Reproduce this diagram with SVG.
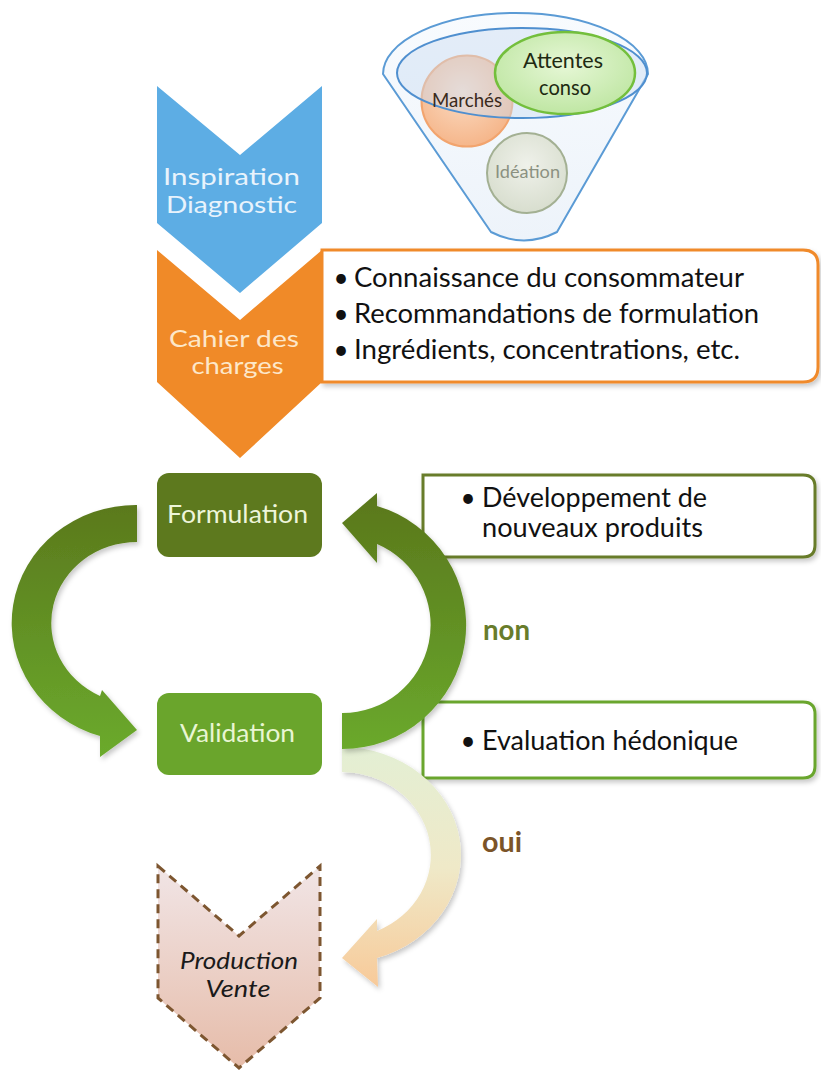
<svg xmlns="http://www.w3.org/2000/svg" width="821" height="1071" viewBox="0 0 821 1071">
<defs>
<style>
text{font-family:Lato,"Open Sans","Liberation Sans",sans-serif}
.lbl{font-size:26px;fill:#111111}
.bul{font-size:26px;fill:#111111;text-anchor:middle}
.mid{text-anchor:middle}
.chev{font-size:24px;text-anchor:middle}
.step{font-size:25.5px;text-anchor:middle}
.yn{font-size:29px;font-weight:bold}
.prod{font-size:24px;font-style:italic;fill:#1a1a1a;text-anchor:middle}
</style>
<linearGradient id="gArc" gradientUnits="userSpaceOnUse" x1="0" y1="500" x2="0" y2="760">
<stop offset="0" stop-color="#5a781c"/><stop offset="1" stop-color="#6bab2d"/>
</linearGradient>
<linearGradient id="gOui" gradientUnits="userSpaceOnUse" x1="0" y1="745" x2="0" y2="990">
<stop offset="0" stop-color="#e3efd4"/><stop offset="0.5" stop-color="#efe9c8"/><stop offset="1" stop-color="#f8c998"/>
</linearGradient>
<linearGradient id="gProd" gradientUnits="userSpaceOnUse" x1="0" y1="866" x2="0" y2="1068">
<stop offset="0" stop-color="#f1e5e6"/><stop offset="1" stop-color="#e6bca9"/>
</linearGradient>
<linearGradient id="gFun" x1="0" y1="0" x2="0" y2="1">
<stop offset="0" stop-color="#f8fbfe"/><stop offset="1" stop-color="#edf3fa"/>
</linearGradient>
<radialGradient id="gMar" cx="0.45" cy="0.4" r="0.65">
<stop offset="0" stop-color="#fbdcc4"/><stop offset="1" stop-color="#f5b386"/>
</radialGradient>
<radialGradient id="gAtt" cx="0.5" cy="0.4" r="0.65">
<stop offset="0" stop-color="#e6f7d6"/><stop offset="1" stop-color="#bce59f"/>
</radialGradient>
<radialGradient id="gIde" cx="0.5" cy="0.4" r="0.65">
<stop offset="0" stop-color="#eff1ea"/><stop offset="1" stop-color="#d6dccc"/>
</radialGradient>
<filter id="sh" x="-10%" y="-10%" width="130%" height="130%">
<feDropShadow dx="2" dy="3" stdDeviation="2.5" flood-color="#000" flood-opacity="0.22"/>
</filter>
</defs>

<rect width="821" height="1071" fill="#ffffff"/>

<g id="node-funnel">
<path d="M383,74 A132.5 61 0 0 1 648,74 L557,232 Q524,249 491,232 Z" fill="url(#gFun)" stroke="#5b9bd5" stroke-width="2"/>
<circle cx="467" cy="101" r="45.5" fill="url(#gMar)" stroke="#f2a46e" stroke-width="2"/>
<ellipse cx="522" cy="73" rx="125" ry="45" fill="#c9dcf2" fill-opacity="0.45" stroke="#4f8fcf" stroke-width="2"/>
<ellipse cx="565" cy="73" rx="70" ry="41" fill="url(#gAtt)" stroke="#73bf3c" stroke-width="2.5"/>
<circle cx="527" cy="173" r="40" fill="url(#gIde)" stroke="#a3b093" stroke-width="2"/>
<text x="467" y="107" class="mid" font-size="19" fill="#3a2a1c" textLength="70" lengthAdjust="spacingAndGlyphs">Marchés</text>
<text x="563" y="68" class="mid" font-size="21" fill="#1e2a12" textLength="80" lengthAdjust="spacingAndGlyphs">Attentes</text>
<text x="565" y="95" class="mid" font-size="21" fill="#1e2a12" textLength="52" lengthAdjust="spacingAndGlyphs">conso</text>
<text x="527.5" y="178" class="mid" font-size="17" fill="#8b9181" textLength="65" lengthAdjust="spacingAndGlyphs">Idéation</text>
</g>

<g id="node-inspiration">
<path d="M157,86 L240,155 L322,86 L322,223 L240,293 L157,223 Z" fill="#5dade4"/>
<text x="231.5" y="185" class="chev" fill="#e8f3fc" textLength="137" lengthAdjust="spacingAndGlyphs">Inspiration</text>
<text x="231.5" y="213" class="chev" fill="#e8f3fc" textLength="131" lengthAdjust="spacingAndGlyphs">Diagnostic</text>
</g>

<g id="node-cahier-details">
<path d="M322,250 H803 Q818,250 818,265 V367 Q818,382 803,382 H322 Z" fill="#ffffff" stroke="#f08a2c" stroke-width="3" filter="url(#sh)"/>
<text x="341" y="287" class="bul">•</text>
<text x="354" y="287" class="lbl" textLength="390" lengthAdjust="spacingAndGlyphs">Connaissance du consommateur</text>
<text x="341" y="323" class="bul">•</text>
<text x="354" y="323" class="lbl" textLength="405" lengthAdjust="spacingAndGlyphs">Recommandations de formulation</text>
<text x="341" y="359" class="bul">•</text>
<text x="354" y="359" class="lbl" textLength="386" lengthAdjust="spacingAndGlyphs">Ingrédients, concentrations, etc.</text>
</g>

<g id="node-cahier">
<path d="M157,250 L240,320 L322,250 L322,382 L240,458 L157,382 Z" fill="#f08a28"/>
<text x="234" y="347" class="chev" fill="#fde7c9" font-size="23" textLength="130" lengthAdjust="spacingAndGlyphs">Cahier des</text>
<text x="237.5" y="374" class="chev" fill="#fde7c9" font-size="23" textLength="92" lengthAdjust="spacingAndGlyphs">charges</text>
</g>

<g id="node-dev-box">
<path d="M423,475 H803 Q815,475 815,487 V545 Q815,557 803,557 H423 Z" fill="#ffffff" stroke="#677c29" stroke-width="3" filter="url(#sh)"/>
<text x="468" y="507" class="bul">•</text>
<text x="482" y="507" class="lbl" textLength="225" lengthAdjust="spacingAndGlyphs">Développement de</text>
<text x="482" y="537" class="lbl" textLength="221" lengthAdjust="spacingAndGlyphs">nouveaux produits</text>
</g>

<g id="node-eval-box">
<path d="M423,702 H803 Q815,702 815,714 V766 Q815,778 803,778 H423 Z" fill="#ffffff" stroke="#6aa62e" stroke-width="3" filter="url(#sh)"/>
<text x="468" y="750" class="bul">•</text>
<text x="482" y="750" class="lbl" textLength="256" lengthAdjust="spacingAndGlyphs">Evaluation hédonique</text>
</g>

<g id="node-formulation">
<rect x="157" y="473" width="165" height="84" rx="12" fill="#5d791e"/>
<text x="237.5" y="523" class="step" fill="#eef5da" textLength="141" lengthAdjust="spacingAndGlyphs">Formulation</text>
</g>

<g id="node-validation">
<rect x="157" y="693" width="165" height="82" rx="12" fill="#6aa52c"/>
<text x="237.5" y="742" class="step" fill="#e9f6d3" textLength="115" lengthAdjust="spacingAndGlyphs">Validation</text>
</g>

<g id="node-production">
<path d="M158,866 L239,936 L320,866 L320,998 L239,1068 L158,998 Z" fill="url(#gProd)" stroke="#7d5630" stroke-width="3" stroke-dasharray="9 6"/>
<text x="239" y="969" class="prod" textLength="118" lengthAdjust="spacingAndGlyphs">Production</text>
<text x="238" y="997" class="prod" textLength="65" lengthAdjust="spacingAndGlyphs">Vente</text>
</g>

<g id="connectors">
<path id="arrow-oui" d="M342,747 A120 108 0 0 1 377,958 L378,987 L342,958 L377,919 L377,931 A90 83 0 0 0 342,772 Z" fill="url(#gOui)" filter="url(#sh)"/>
<path id="arrow-formulation-validation" d="M137,505 A124 118 0 0 0 100,736 L100,757 L137,730 L102,690 L100,696 A86 81 0 0 1 137,542 Z" fill="url(#gArc)" filter="url(#sh)"/>
<path id="arrow-non" d="M342,749 A124 124 0 0 0 377,506 L377,493 L342,523 L377,563 L377,544 A88 88 0 0 1 342,713 Z" fill="url(#gArc)" filter="url(#sh)"/>
<text x="483" y="640" class="yn" fill="#687c2b" textLength="47" lengthAdjust="spacingAndGlyphs">non</text>
<text x="482" y="852" class="yn" fill="#7b5428" textLength="40" lengthAdjust="spacingAndGlyphs">oui</text>
</g>
</svg>
